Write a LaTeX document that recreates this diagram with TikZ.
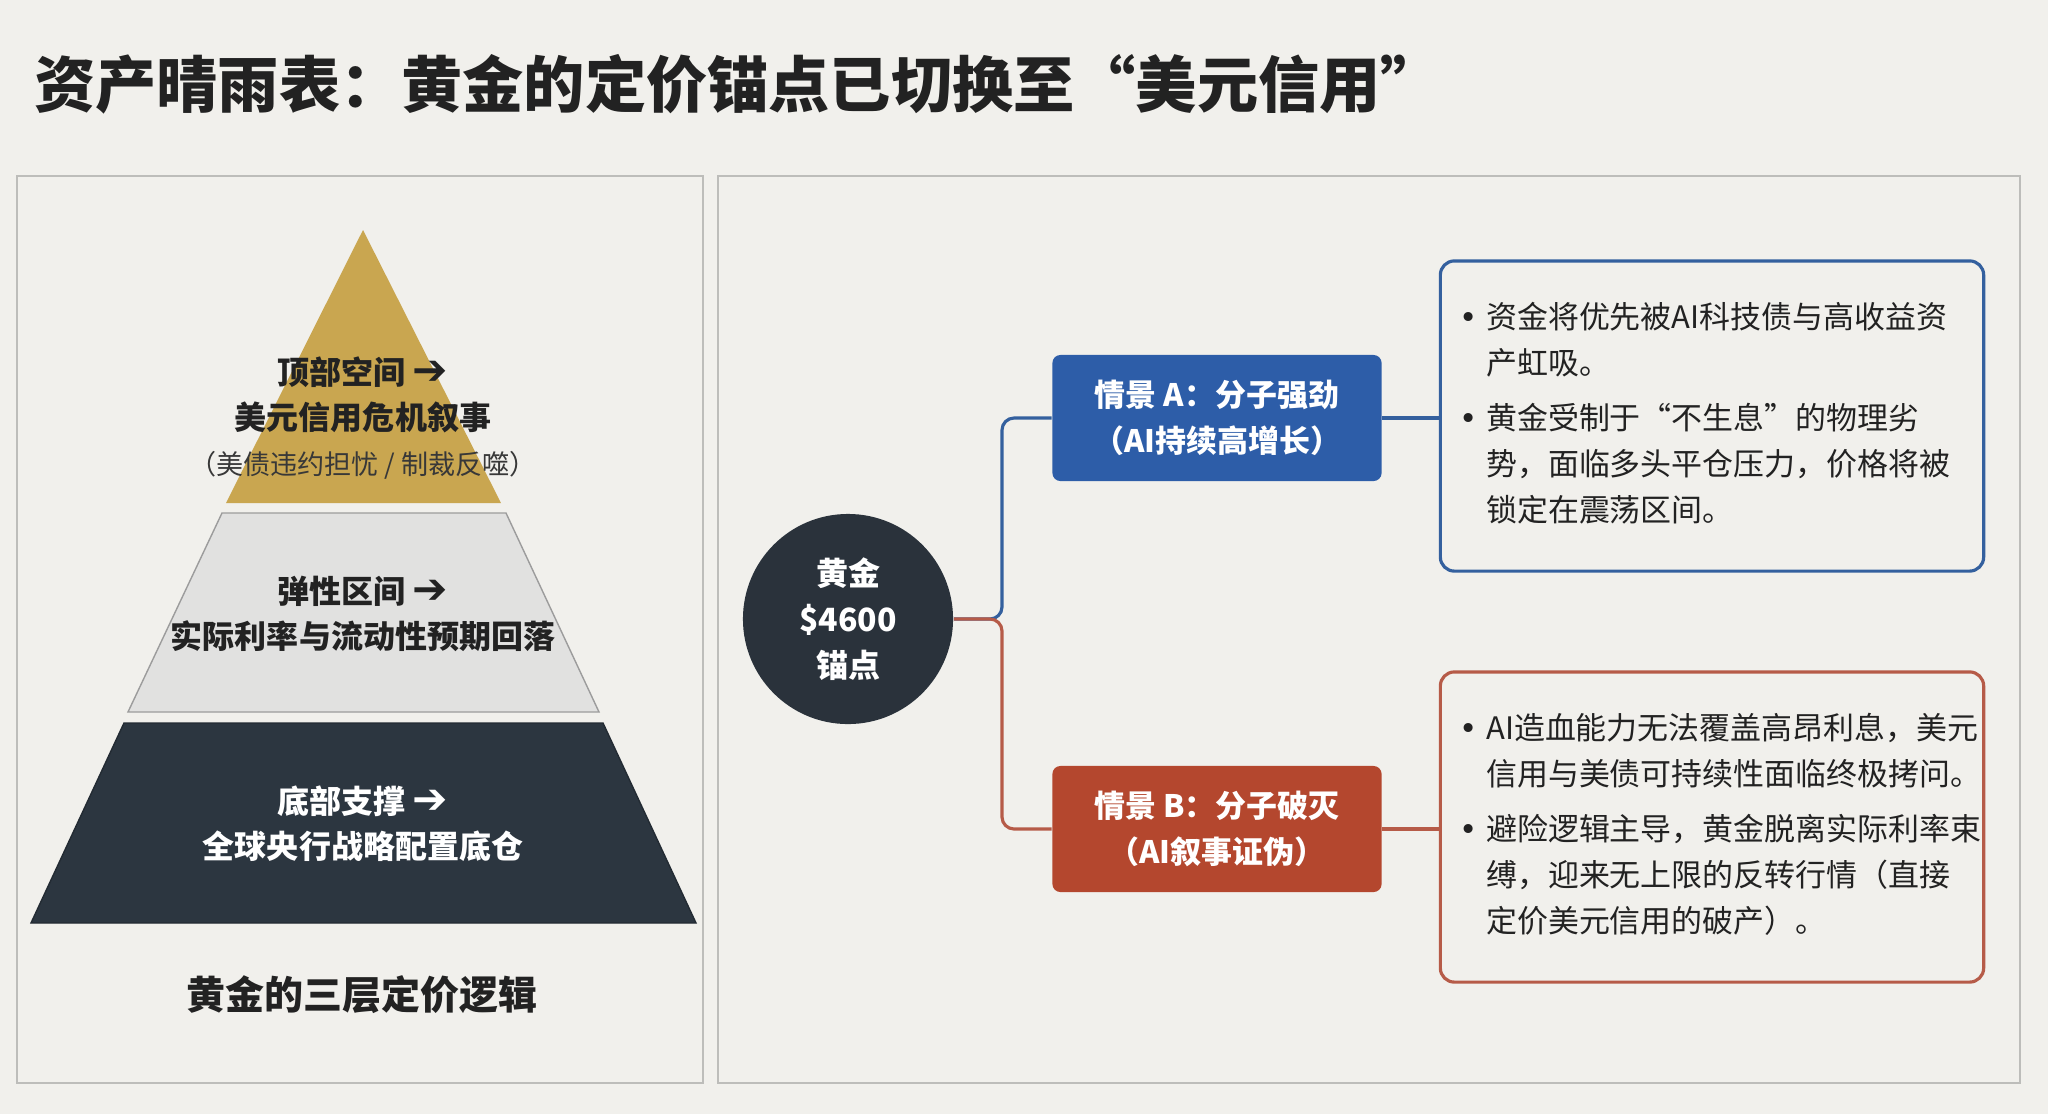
\documentclass[tikz,border=0pt]{standalone}
\usepackage{fontspec}
\setmainfont{Noto Sans CJK SC}
\newfontfamily\arrowfont[BoldFont={DejaVu Sans}]{DejaVu Sans}

\definecolor{bgpaper}{HTML}{F1F0EC}
\definecolor{panelline}{HTML}{BDBDBA}
\definecolor{goldtone}{HTML}{C9A650}
\definecolor{greylayer}{HTML}{E1E1E0}
\definecolor{greyedge}{HTML}{9C9C9C}
\definecolor{darklayer}{HTML}{2C3640}
\definecolor{hubdark}{HTML}{2A323B}
\definecolor{scenblue}{HTML}{2D5DA8}
\definecolor{linkblue}{HTML}{34609E}
\definecolor{scenred}{HTML}{B4472E}
\definecolor{linkred}{HTML}{B65B48}
\definecolor{inkdark}{HTML}{222222}

\newcommand\fsz[2]{\fontsize{#1}{#2}\selectfont}
\newcommand\goarrow{{\arrowfont\fsz{12}{12.8}➔}}
\newcommand\dotmark{{\arrowfont •}}

\tikzset{
  panel/.style={draw=panelline, line width=0.6pt},
  layertext/.style={font=\fsz{9.1}{12.8}\bfseries, align=center},
  hub/.style={circle, fill=hubdark, minimum size=2.1cm, inner sep=0pt,
    text=white, font=\fsz{9.1}{13.1}\bfseries, align=center},
  scenario/.style={rounded corners=0.08cm, minimum width=3.29cm, minimum height=1.26cm,
    text=white, font=\fsz{8.8}{13.1}\bfseries, align=center},
  detail/.style={draw, line width=0.9pt, rounded corners=0.14cm, text width=5.23cm,
    inner xsep=0.1cm, minimum height=3.1cm, text=inkdark, font=\fsz{8.8}{13.1}, align=left},
  branch/.style={line width=0.9pt, rounded corners=0.12cm}
}

\begin{document}
\begin{tikzpicture}[x=0.01cm, y=-0.01cm]
\fill[bgpaper] (0,0) rectangle (2048,1114);
\useasboundingbox (0,0) rectangle (2048,1114);

% titre
\node[anchor=west, text=inkdark, font=\fsz{17.4}{20}\bfseries] (title) at (22,84)
  {资产晴雨表：黄金的定价锚点已切换至“美元信用”};

% deux panneaux
\draw[panel] (17,176) rectangle (703,1083);
\draw[panel] (718,176) rectangle (2020,1083);

% pyramide a gauche
\fill[goldtone] (363,230) -- (501,503) -- (226,503) -- cycle;
\filldraw[fill=greylayer, draw=greyedge, line width=0.4pt]
  (222,513) -- (506,513) -- (599,712) -- (128,712) -- cycle;
\filldraw[fill=darklayer, draw=darklayer!80!black, line width=0.4pt]
  (124,723) -- (603,723) -- (696,923) -- (31,923) -- cycle;

\node[layertext, text=inkdark] (toplayer) at (363,418)
  {顶部空间 \goarrow\\美元信用危机叙事\\
   {\fsz{7.7}{12.8}\mdseries\color{inkdark!90}（美债违约担忧 / 制裁反噬）}};
\node[layertext, text=inkdark] (midlayer) at (363,614)
  {弹性区间 \goarrow\\实际利率与流动性预期回落};
\node[layertext, text=white] (baselayer) at (363,824)
  {底部支撑 \goarrow\\全球央行战略配置底仓};
\node[text=inkdark, font=\fsz{11.1}{14}\bfseries] (caption) at (362,995)
  {黄金的三层定价逻辑};

% ancre et scenarios
\node[hub] (anchor) at (848,619) {黄金\\\$4600\\锚点};
\node[scenario, fill=scenblue] (scenA) at (1217,418) {情景 A：分子强劲\\（AI持续高增长）};
\node[scenario, fill=scenred] (scenB) at (1217,829) {情景 B：分子破灭\\（AI叙事证伪）};

\node[detail, draw=linkblue] (detA) at (1712,416) {%
  \begin{tabular}{@{\hspace{2.5pt}}l@{\hspace{2.5pt}}l@{}}
  \dotmark & 资金将优先被AI科技债与高收益资\\
           & 产虹吸。\\[2.6pt]
  \dotmark & 黄金受制于“不生息”的物理劣\\
           & 势，面临多头平仓压力，价格将被\\
           & 锁定在震荡区间。
  \end{tabular}};
\node[detail, draw=linkred] (detB) at (1712,827) {%
  \begin{tabular}{@{\hspace{2.5pt}}l@{\hspace{2.5pt}}l@{}}
  \dotmark & AI造血能力无法覆盖高昂利息，美元\\
           & 信用与美债可持续性面临终极拷问。\\[2.6pt]
  \dotmark & 避险逻辑主导，黄金脱离实际利率束\\
           & 缚，迎来无上限的反转行情（直接\\
           & 定价美元信用的破产）。
  \end{tabular}};

% branches
\coordinate (fork) at (1002,619);
\foreach \s/\c in {A/linkblue, B/linkred} {
  \draw[branch, \c] (anchor.east) -- (fork) |- (scen\s.west);
  \draw[branch, \c] (scen\s.east) -- (scen\s.east -| det\s.west);
}
\end{tikzpicture}
\end{document}
